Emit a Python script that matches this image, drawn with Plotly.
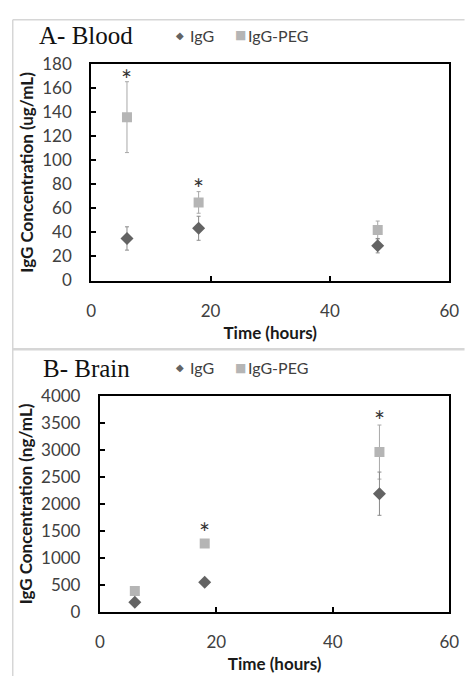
import plotly.graph_objects as go

# ---------------- data ----------------
time_h = [6, 18, 48]

blood_igg = [35, 43.5, 29]
blood_igg_err = [9.7, 10, 6]
blood_peg = [136, 65, 42]
blood_peg_err = [29.5, 9, 7.5]

brain_igg = [180, 550, 2190]
brain_igg_err = [40, 40, 400]
brain_peg = [390, 1270, 2960]
brain_peg_err = [60, 60, 500]

# significance markers (time, y position)
blood_sig_t = [6, 18]
blood_sig_y = [171, 80]
brain_sig_t = [18, 48]
brain_sig_y = [1560, 3630]

x_ticks = [0, 20, 40, 60]
blood_y_ticks = list(range(0, 181, 20))
brain_y_ticks = list(range(0, 4001, 500))

W, H = 470, 687
def px(x):
    return x / W
def py(y):
    return 1 - y / H

IGG_COLOR = "#636363"
PEG_COLOR = "#b5b5b5"
ERR_IGG = "#8a8a8a"
ERR_PEG = "#a8a8a8"
TICK_FONT = dict(family="Lato", size=17, color="#404040")
TITLE_FONT = dict(family="Lato", size=17, color="#1a1a1a")

fig = go.Figure()

def add_series(xa, ya, peg, peg_err, igg, igg_err):
    fig.add_trace(go.Scatter(
        x=time_h, y=peg, mode="markers", name="IgG-PEG", xaxis=xa, yaxis=ya,
        marker=dict(symbol="square", size=10, color=PEG_COLOR),
        error_y=dict(type="data", array=peg_err, color=ERR_PEG, thickness=1, width=2),
        showlegend=False))
    fig.add_trace(go.Scatter(
        x=time_h, y=igg, mode="markers", name="IgG", xaxis=xa, yaxis=ya,
        marker=dict(symbol="diamond", size=10, color=IGG_COLOR),
        error_y=dict(type="data", array=igg_err, color=ERR_IGG, thickness=1, width=2),
        showlegend=False))

add_series("x", "y", blood_peg, blood_peg_err, blood_igg, blood_igg_err)
add_series("x2", "y2", brain_peg, brain_peg_err, brain_igg, brain_igg_err)

axis_common = dict(
    showline=True, linecolor="black", linewidth=2, mirror=True,
    ticks="inside", ticklen=5, tickwidth=1.5, tickcolor="black",
    showgrid=False, zeroline=False, tickfont=TICK_FONT,
    title_font=TITLE_FONT,
)

fig.update_layout(
    width=W, height=H,
    margin=dict(l=0, r=0, t=0, b=0),
    paper_bgcolor="white", plot_bgcolor="white",
    showlegend=False,
    xaxis=dict(domain=[px(89), px(459)], anchor="y", range=[0, 60],
               tickvals=x_ticks, ticklabelstandoff=14,
               title=dict(text="<b>Time (hours)</b>", standoff=7), **axis_common),
    yaxis=dict(domain=[py(278), py(55)], anchor="x", range=[0, 180],
               tickvals=blood_y_ticks, ticklabelstandoff=14,
               title=dict(text="<b>IgG Concentration (ug/mL)</b>", standoff=4), **axis_common),
    xaxis2=dict(domain=[px(98), px(459)], anchor="y2", range=[0, 60],
                tickvals=x_ticks, ticklabelstandoff=14,
                title=dict(text="<b>Time (hours)</b>", standoff=7), **axis_common),
    yaxis2=dict(domain=[py(620), py(397)], anchor="x2", range=[0, 4000],
                tickvals=brain_y_ticks, ticklabelstandoff=14,
                title=dict(text="<b>IgG Concentration (ng/mL)</b>", standoff=4), **axis_common),
)

annotations = []
# panel titles
annotations.append(dict(text="A- Blood", x=px(33), y=py(25), xref="paper", yref="paper",
                        xanchor="left", yanchor="middle", showarrow=False,
                        font=dict(family="Liberation Serif", size=25, color="#111")))
annotations.append(dict(text="B- Brain", x=px(37), y=py(369), xref="paper", yref="paper",
                        xanchor="left", yanchor="middle", showarrow=False,
                        font=dict(family="Liberation Serif", size=25, color="#111")))

# legends (manual, glyph + label)
for ly in (25, 368):
    annotations.append(dict(text="◆", x=px(181), y=py(ly), xref="paper", yref="paper",
                            xanchor="center", yanchor="middle", showarrow=False,
                            font=dict(family="DejaVu Sans", size=10, color=IGG_COLOR)))
    annotations.append(dict(text="IgG", x=px(189), y=py(ly), xref="paper", yref="paper",
                            xanchor="left", yanchor="middle", showarrow=False,
                            font=dict(family="Lato", size=16, color="#404040")))
    annotations.append(dict(text="■", x=px(243), y=py(ly), xref="paper", yref="paper",
                            xanchor="center", yanchor="middle", showarrow=False,
                            font=dict(family="DejaVu Sans", size=12, color=PEG_COLOR)))
    annotations.append(dict(text="IgG-PEG", x=px(249), y=py(ly), xref="paper", yref="paper",
                            xanchor="left", yanchor="middle", showarrow=False,
                            font=dict(family="Lato", size=16, color="#404040")))

# significance asterisks
for t, yv in zip(blood_sig_t, blood_sig_y):
    annotations.append(dict(text="*", x=t, y=yv, xref="x", yref="y", showarrow=False,
                            yshift=-5, font=dict(family="Lato", size=26, color="#333")))
for t, yv in zip(brain_sig_t, brain_sig_y):
    annotations.append(dict(text="*", x=t, y=yv, xref="x2", yref="y2", showarrow=False,
                            yshift=-5, font=dict(family="Lato", size=26, color="#333")))

fig.update_layout(annotations=annotations)

# panel frames (light grey chart-area borders)
BORDER = "#d6d6d6"
shapes = [
    dict(type="line", xref="paper", yref="paper", x0=px(8), x1=1.01, y0=py(9), y1=py(9),
         line=dict(color=BORDER, width=1.5)),
    dict(type="line", xref="paper", yref="paper", x0=px(8), x1=px(8), y0=py(9), y1=py(686),
         line=dict(color=BORDER, width=1.5)),
    dict(type="line", xref="paper", yref="paper", x0=px(8), x1=1.01, y0=py(349), y1=py(349),
         line=dict(color=BORDER, width=2.5)),
]
fig.update_layout(shapes=shapes)

fig.write_html("out.html", config={"displayModeBar": False},
               post_script="document.body.style.margin='0';document.body.style.overflow='hidden';")
